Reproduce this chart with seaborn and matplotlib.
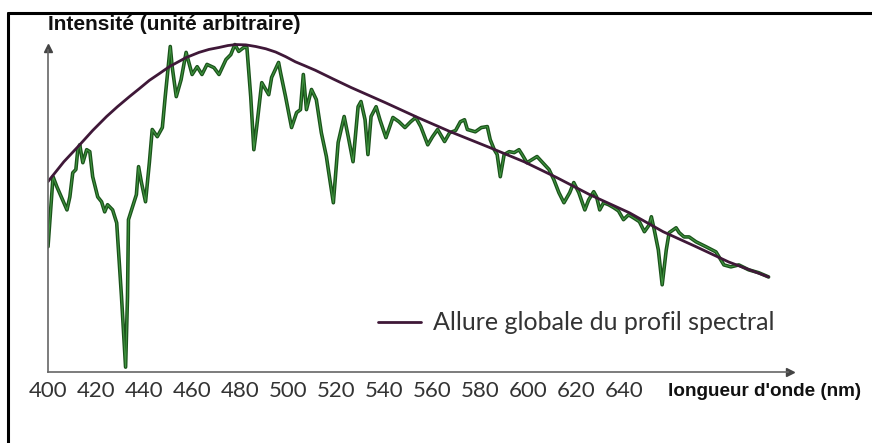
import matplotlib
matplotlib.use("Agg")
import matplotlib.pyplot as plt
import seaborn as sns
import pandas as pd
from matplotlib.lines import Line2D

# Spectre mesuré (longueur d'onde en nm, intensité en unité arbitraire)
spectre_nm = [400.0, 402.1, 403.7, 407.9, 409.1, 410.3, 411.6, 412.4, 413.2, 414.5,
              416.1, 417.4, 418.6, 420.7, 422.3, 423.6, 424.8, 426.9, 428.6, 430.6,
              432.3, 433.1, 433.5, 435.2, 436.8, 437.7, 438.9, 440.6, 442.2, 443.4,
              445.5, 447.6, 448.8, 450.9, 451.7, 453.4, 455.4, 457.5, 460.0, 462.1,
              464.1, 466.2, 469.1, 471.2, 474.1, 476.1, 477.8, 479.4, 481.5, 482.8,
              484.4, 485.7, 486.9, 489.0, 491.9, 493.1, 496.0, 496.8, 498.9, 501.4,
              503.5, 505.1, 506.3, 507.6, 509.7, 511.7, 513.8, 515.9, 516.7, 518.8,
              520.8, 523.3, 525.0, 527.0, 529.1, 530.3, 532.0, 533.2, 534.5, 536.6,
              538.2, 540.7, 543.6, 546.1, 548.6, 551.0, 553.1, 555.2, 558.1, 560.1,
              562.2, 565.1, 567.2, 569.7, 571.7, 573.4, 574.6, 577.9, 580.4, 582.9,
              584.1, 585.8, 587.0, 588.3, 589.9, 592.0, 594.1, 596.1, 597.4, 599.4,
              603.6, 605.6, 608.6, 610.6, 612.7, 614.8, 617.2, 618.9, 621.0, 623.5,
              625.1, 627.2, 628.4, 629.7, 631.3, 633.4, 635.5, 637.5, 639.6, 641.7,
              643.7, 646.2, 648.3, 650.3, 651.2, 652.4, 654.1, 655.7, 657.4, 658.6,
              661.5, 662.8, 664.8, 666.9, 669.8, 673.9, 678.1, 681.4, 684.3, 687.6,
              691.7, 695.9, 700.0]
spectre_int = [38.5, 60.0, 56.9, 49.8, 53.8, 61.2, 62.2, 68.3, 69.8, 64.3,
               68.3, 67.7, 60.0, 53.8, 52.3, 49.2, 51.4, 49.8, 45.8, 23.1,
               1.5, 23.1, 46.8, 50.8, 54.5, 63.1, 58.2, 52.3, 64.3, 74.5,
               72.3, 75.1, 84.6, 100.0, 93.8, 84.6, 89.8, 98.2, 91.4, 93.8,
               91.4, 94.5, 93.5, 91.4, 96.0, 97.5, 100.6, 98.5, 99.7, 99.7,
               84.6, 68.3, 75.4, 88.9, 85.2, 90.5, 95.1, 92.0, 84.6, 75.1,
               79.7, 80.6, 91.4, 80.6, 86.8, 83.7, 73.5, 66.2, 62.2, 52.0,
               70.5, 78.5, 72.3, 64.6, 81.5, 83.1, 77.5, 66.8, 78.5, 81.5,
               77.5, 72.0, 78.2, 76.9, 75.1, 76.9, 78.2, 75.4, 69.8, 72.3,
               74.5, 70.8, 73.5, 74.2, 76.9, 77.5, 74.5, 73.8, 75.1, 75.4,
               71.4, 68.3, 66.8, 60.0, 66.8, 67.7, 67.4, 68.3, 66.8, 64.3,
               66.2, 64.6, 62.2, 59.1, 55.1, 52.0, 55.1, 58.2, 55.1, 49.8,
               52.9, 55.4, 53.8, 49.8, 52.0, 51.4, 50.5, 49.5, 46.8, 48.3,
               47.4, 46.2, 43.1, 45.2, 47.7, 43.7, 37.5, 26.8, 37.5, 42.8,
               44.3, 42.8, 41.5, 41.5, 40.0, 38.5, 36.9, 32.9, 32.3, 32.9,
               31.4, 30.5, 29.2]

# Allure globale du profil spectral
allure_nm = [400.0, 406.6, 413.2, 418.6, 424.4, 428.9, 433.9, 438.1, 442.2, 446.4,
             450.5, 457.5, 462.9, 467.0, 471.2, 474.9, 478.2, 482.4, 486.5, 490.7,
             494.8, 498.9, 503.0, 507.2, 511.3, 518.8, 526.2, 540.3, 553.9, 567.6,
             584.1, 598.2, 611.9, 625.5, 642.1, 656.1, 669.8, 683.4, 700.0]
allure_int = [58.5, 64.6, 69.8, 74.2, 78.5, 81.5, 84.6, 87.1, 89.6, 91.7,
              93.8, 96.6, 98.2, 99.1, 99.7, 100.3, 100.6, 100.5, 100.0, 99.3,
              98.3, 96.9, 95.3, 94.0, 92.7, 90.0, 87.4, 82.8, 78.2, 73.8,
              68.9, 64.6, 59.7, 54.5, 48.9, 43.1, 38.5, 33.8, 29.2]

graduations = list(range(400, 720, 20))
etiquettes = [str(g) if g <= 640 else "" for g in graduations]

spectre = pd.DataFrame({"nm": spectre_nm, "intensite": spectre_int})
allure = pd.DataFrame({"nm": allure_nm, "intensite": allure_int})

sns.set_theme(style="white")
plt.rcParams["font.family"] = ["Lato", "DejaVu Sans"]

fig = plt.figure(figsize=(8.72, 4.43), dpi=100)
ax = fig.add_axes([48 / 872, 71 / 443, 747 / 872, 332 / 443])

# Spectre : trait vert foncé avec un cœur plus clair (aspect scanné)
sns.lineplot(data=spectre, x="nm", y="intensite", ax=ax, color="#1a521a", linewidth=2.6)
sns.lineplot(data=spectre, x="nm", y="intensite", ax=ax, color="#3f943f", linewidth=0.8)
sns.lineplot(data=allure, x="nm", y="intensite", ax=ax, color="#3f1838", linewidth=2.0,
             label="Allure globale du profil spectral")

ax.set_xlim(400, 711)
ax.set_ylim(0, 102)

# Axes fléchés
for s in ["top", "right"]:
    ax.spines[s].set_visible(False)
ax.spines["left"].set_bounds(0, 99)
ax.spines["bottom"].set_bounds(400, 708)
for s in ["left", "bottom"]:
    ax.spines[s].set_color("#666666")
    ax.spines[s].set_linewidth(1.2)
ax.plot([709], [0], marker=">", color="#444444", markersize=6, clip_on=False)
ax.plot([400], [99.5], marker="^", color="#444444", markersize=6, clip_on=False)

ax.set_xticks(graduations)
ax.set_xticklabels(etiquettes)
ax.set_yticks([])
ax.tick_params(axis="x", direction="inout", length=5, width=1.3, color="#333333",
               labelsize=16, labelcolor="#333333", pad=4)
ax.set_xlabel("")
ax.set_ylabel("")

leg = ax.legend(frameon=False, loc="center left", bbox_to_anchor=(330 / 747, 49 / 332),
                borderpad=0, borderaxespad=0, handlelength=1.7, handletextpad=0.5,
                fontsize=18)
for t in leg.get_texts():
    t.set_color("#333333")

fig.text(48 / 872, 1 - 30 / 443, "Intensité (unité arbitraire)", ha="left", va="baseline",
         fontsize=15, fontweight="bold", family="Liberation Sans", color="#111111")
fig.text(668 / 872, 1 - 391 / 443, "longueur d'onde (nm)", ha="left", va="center",
         fontsize=13.6, fontweight="bold", family="Liberation Sans", color="#111111")

# Cadre (haut et gauche) de l'image d'origine
fig.add_artist(Line2D([8 / 872, 1], [1 - 13 / 443, 1 - 13 / 443], color="black", linewidth=2.2,
                      transform=fig.transFigure))
fig.add_artist(Line2D([8 / 872, 8 / 872], [0, 1 - 13 / 443], color="black", linewidth=2.2,
                      transform=fig.transFigure))

fig.savefig("out.png", dpi=100)
